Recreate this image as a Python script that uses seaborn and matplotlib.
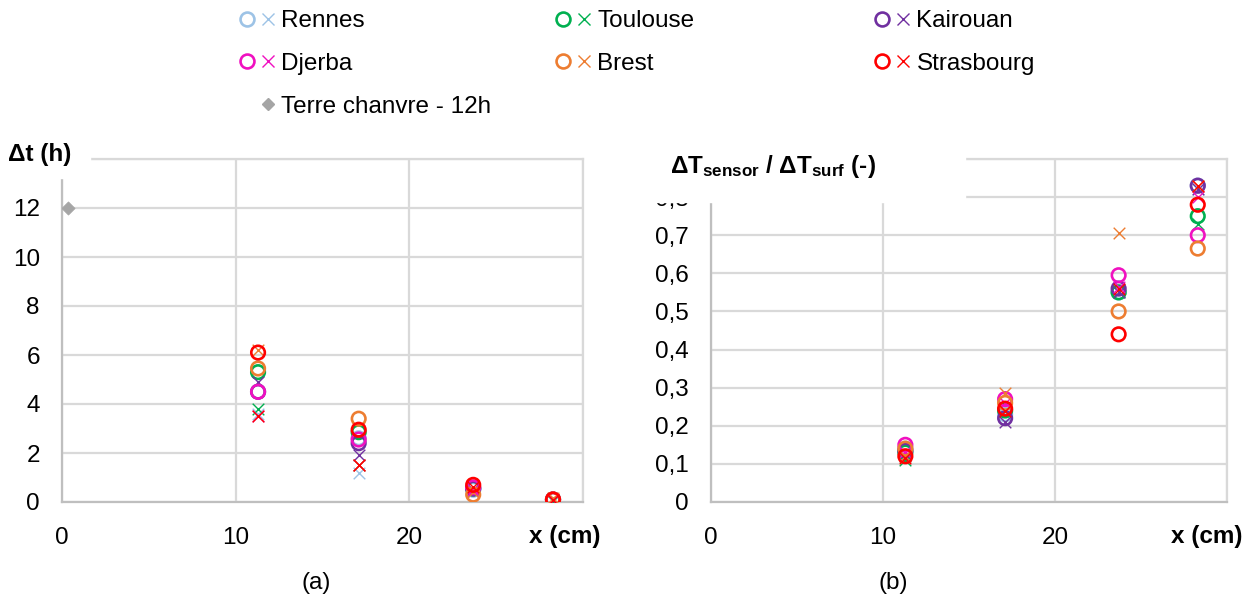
import numpy as np
import pandas as pd
import seaborn as sns
import matplotlib.pyplot as plt
from matplotlib.lines import Line2D
from matplotlib.patches import Rectangle
from matplotlib.legend_handler import HandlerTuple

# data
cities = ['Rennes', 'Toulouse', 'Kairouan', 'Djerba', 'Brest', 'Strasbourg']
depth = [11.3, 17.1, 23.7, 28.3]

# (a) time lag in hours : circles / crosses
dt_circle = [[4.5, 2.6, 0.5, 0.1],
             [5.3, 2.85, 0.55, 0.1],
             [4.5, 2.4, 0.55, 0.1],
             [4.5, 2.55, 0.6, 0.1],
             [5.45, 3.4, 0.3, 0.1],
             [6.1, 2.95, 0.7, 0.1]]
dt_cross = [[3.6, 1.2, 0.4, 0.1],
            [3.8, 1.5, 0.5, 0.05],
            [4.9, 1.9, 0.5, 0.1],
            [3.5, 1.5, 0.5, 0.1],
            [6.2, 1.5, 0.4, 0.15],
            [3.5, 1.5, 0.6, 0.1]]

# (b) amplitude ratio : circles / crosses
ratio_circle = [[0.14, 0.23, 0.55, 0.83],
                [0.13, 0.24, 0.55, 0.75],
                [0.135, 0.22, 0.56, 0.83],
                [0.15, 0.27, 0.595, 0.70],
                [0.14, 0.26, 0.50, 0.665],
                [0.12, 0.245, 0.44, 0.78]]
ratio_cross = [[0.13, 0.23, 0.55, 0.82],
               [0.11, 0.24, 0.55, 0.73],
               [0.12, 0.21, 0.55, 0.82],
               [0.13, 0.26, 0.565, 0.80],
               [0.12, 0.285, 0.705, 0.83],
               [0.115, 0.24, 0.56, 0.83]]

ref_x = [0.35]
ref_dt = [12]
ref_label = 'Terre chanvre - 12h'

colors = ['#9DC3E6', '#00B050', '#7030A0', '#F010C0', '#ED7D31', '#FF0000']
ref_color = '#A5A5A5'

sns.set_theme(style='white')
plt.rcParams['font.family'] = ['Liberation Sans', 'DejaVu Sans']
plt.rcParams['mathtext.fontset'] = 'custom'
plt.rcParams['mathtext.rm'] = 'Liberation Sans'
plt.rcParams['mathtext.bf'] = 'Liberation Sans:bold'
plt.rcParams['text.color'] = 'black'
FS = 17.5
GRID = '#D9D9D9'

# long table
rows = []
for i, city in enumerate(cities):
    for j, x in enumerate(depth):
        rows.append({'city': city, 'x': x,
                     'dt_o': dt_circle[i][j], 'dt_x': dt_cross[i][j],
                     'r_o': ratio_circle[i][j], 'r_x': ratio_cross[i][j]})
df = pd.DataFrame(rows)
ref_df = pd.DataFrame({'x': ref_x, 'dt': ref_dt})

fig = plt.figure(figsize=(12.58, 6.06), dpi=100)
ax1 = fig.add_axes([62 / 1258, 104 / 606, 520.5 / 1258, 343 / 606])
ax2 = fig.add_axes([711 / 1258, 104 / 606, 516 / 1258, 343 / 606])


def plot_panel(ax, col_o, col_x):
    for i, city in enumerate(cities):
        d = df[df['city'] == city]
        c = colors[i]
        sns.scatterplot(data=d, x='x', y=col_o, ax=ax, marker='o', s=95,
                        color=c, facecolors='none', edgecolor=c,
                        linewidth=1.9, legend=False, zorder=3)
        sns.scatterplot(data=d, x='x', y=col_x, ax=ax, marker='x', s=70,
                        color=c, linewidth=1.0, legend=False, zorder=3)


plot_panel(ax1, 'dt_o', 'dt_x')
sns.scatterplot(data=ref_df, x='x', y='dt', ax=ax1, marker='D', s=45,
                color=ref_color, edgecolor=ref_color, legend=False, zorder=3)
plot_panel(ax2, 'r_o', 'r_x')


def style_axes(ax, ymax, ystep, ylabels):
    ax.set_xlim(0, 30)
    ax.set_ylim(0, ymax)
    ax.set_xticks([0, 10, 20, 30])
    ax.set_xticklabels(['0', '10', '20', ''])
    yt = np.arange(0, ymax + ystep / 2, ystep)
    ax.set_yticks(yt)
    ax.set_yticklabels(ylabels)
    ax.set_xlabel('')
    ax.set_ylabel('')
    ax.grid(True, color=GRID, lw=1.6)
    ax.set_axisbelow(True)
    for side in ['top', 'right']:
        ax.spines[side].set_color(GRID)
        ax.spines[side].set_linewidth(1.6)
    for side in ['left', 'bottom']:
        ax.spines[side].set_color('#BFBFBF')
        ax.spines[side].set_linewidth(1.6)
    ax.tick_params(axis='both', length=0, labelsize=FS, labelcolor='black')
    ax.tick_params(axis='x', pad=18)
    ax.tick_params(axis='y', pad=16)


# top labels are hidden behind the axis titles in the original
style_axes(ax1, 14, 2, [str(v) for v in range(0, 13, 2)] + [''])
style_axes(ax2, 0.9, 0.1, ['0'] + ['0,%d' % k for k in range(1, 9)] + [''])

# white boxes behind the axis titles
fig.add_artist(Rectangle((0, 1 - 178 / 606), 90 / 1258, 40 / 606,
                         transform=fig.transFigure, color='white', zorder=10))
fig.add_artist(Rectangle((640 / 1258, 1 - 202 / 606), 325 / 1258, 64 / 606,
                         transform=fig.transFigure, color='white', zorder=10))

fig.text(8 / 1258, 1 - 155 / 606, 'Δt (h)', fontsize=FS, fontweight='bold',
         ha='left', va='center', zorder=11)
fig.text(670 / 1258, 1 - 166 / 606,
         r'$\mathbf{\Delta T_{sensor}}$ / $\mathbf{\Delta T_{surf}}$ (-)',
         fontsize=FS, fontweight='bold', ha='left', va='center', zorder=11)

fig.text(565 / 1258, 1 - 536 / 606, 'x (cm)', fontsize=FS, fontweight='bold',
         ha='center', va='center')
fig.text(1207 / 1258, 1 - 536 / 606, 'x (cm)', fontsize=FS, fontweight='bold',
         ha='center', va='center')
fig.text(316 / 1258, 1 - 583 / 606, '(a)', fontsize=FS, ha='center', va='center')
fig.text(893 / 1258, 1 - 583 / 606, '(b)', fontsize=FS, ha='center', va='center')


# legend, built column by column
def city_handle(i):
    c = colors[i]
    o = Line2D([], [], ls='none', marker='o', ms=10, mfc='none', mec=c, mew=1.9)
    x = Line2D([], [], ls='none', marker='x', ms=8.5, color=c, mew=1.0)
    return (o, x)


ref_handle = (Line2D([], [], ls='none', marker='None'),
              Line2D([], [], ls='none', marker='D', ms=6.5, color=ref_color))

columns = [([0, 3], True, 236.5), ([1, 4], False, 552.5), ([2, 5], False, 871.5)]
for idx, with_ref, xpix in columns:
    handles = [city_handle(i) for i in idx]
    labels = [cities[i] for i in idx]
    if with_ref:
        handles.append(ref_handle)
        labels.append(ref_label)
    fig.legend(handles, labels, loc='upper left',
               bbox_to_anchor=(xpix / 1258, 1 - 10 / 606),
               frameon=False, borderpad=0, borderaxespad=0,
               handler_map={tuple: HandlerTuple(ndivide=None, pad=0)},
               handlelength=1.75, handletextpad=0.1, labelspacing=0.86,
               fontsize=FS, labelcolor='black')

fig.savefig('out.png', dpi=100)
